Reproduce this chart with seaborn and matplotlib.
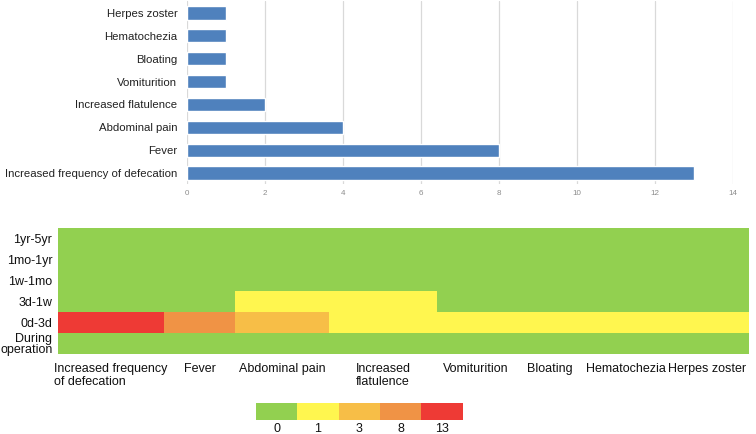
import matplotlib.pyplot as plt
import numpy as np
import seaborn as sns
from matplotlib.colors import BoundaryNorm, ListedColormap

# symptom totals (top bar chart)
symptoms = [
    "Increased frequency of defecation",
    "Fever",
    "Abdominal pain",
    "Increased flatulence",
    "Vomiturition",
    "Bloating",
    "Hematochezia",
    "Herpes zoster",
]
patients = [13, 8, 4, 2, 1, 1, 1, 1]

# onset time per symptom (heatmap rows, top to bottom)
periods = ["1yr-5yr", "1mo-1yr", "1w-1mo", "3d-1w", "0d-3d", "During\noperation"]
onset_1yr_5yr = [0, 0, 0, 0, 0, 0, 0, 0]
onset_1mo_1yr = [0, 0, 0, 0, 0, 0, 0, 0]
onset_1w_1mo = [0, 0, 0, 0, 0, 0, 0, 0]
onset_3d_1w = [0, 0, 1, 1, 0, 0, 0, 0]
onset_0d_3d = [13, 8, 3, 1, 1, 1, 1, 1]
onset_during = [0, 0, 0, 0, 0, 0, 0, 0]

heat_labels = [
    "Increased frequency\nof defecation",
    "Fever",
    "Abdominal pain",
    "Increased\nflatulence",
    "Vomiturition",
    "Bloating",
    "Hematochezia",
    "Herpes zoster",
]
legend_labels = ["0", "1", "3", "8", "13"]

# layout: uneven column widths as in the original figure
col_widths = [106, 71, 94, 108, 77, 71, 81, 83]

level_colors = ["#92D050", "#FFF64F", "#F7BE47", "#F09345", "#EE3A35"]
cmap = ListedColormap(level_colors)
norm = BoundaryNorm([-0.5, 0.5, 2, 5.5, 10.5, 14], cmap.N)

sns.set_style("white")
plt.rcParams["font.family"] = ["Liberation Sans", "DejaVu Sans"]

fig = plt.figure(figsize=(7.56, 4.34), dpi=100)

# --- top: horizontal bar chart ---
ax_bar = fig.add_axes([0.2474, 0.5749, 0.7222, 0.4217])
sns.barplot(
    x=patients,
    y=symptoms,
    order=symptoms[::-1],
    orient="h",
    color="#4F81BD",
    saturation=1,
    width=0.58,
    ax=ax_bar,
)
ax_bar.set_xlim(0, 14)
ax_bar.set_xticks(range(0, 15, 2))
ax_bar.set_axisbelow(True)
ax_bar.grid(axis="x", color="#D9D9D9", linewidth=0.9)
for s in ax_bar.spines.values():
    s.set_visible(False)
ax_bar.tick_params(axis="y", length=0, pad=7, labelsize=8.2, labelcolor="#222222")
ax_bar.tick_params(axis="x", length=0, pad=4, labelsize=5.8, labelcolor="#8C8C8C")
ax_bar.set_xlabel("")
ax_bar.set_ylabel("")

# --- bottom: onset heatmap with uneven columns ---
ax_heat = fig.add_axes([0.0767, 0.1836, 0.9140, 0.2903])
grid = np.array([onset_1yr_5yr, onset_1mo_1yr, onset_1w_1mo,
                 onset_3d_1w, onset_0d_3d, onset_during])
x_edges = np.concatenate([[0], np.cumsum(col_widths)])
y_edges = np.arange(len(periods) + 1)
ax_heat.pcolormesh(x_edges, y_edges, grid, cmap=cmap, norm=norm)
ax_heat.set_xlim(x_edges[0], x_edges[-1])
ax_heat.set_ylim(len(periods), 0)
for s in ax_heat.spines.values():
    s.set_visible(False)

x_centers = (x_edges[:-1] + x_edges[1:]) / 2
ax_heat.set_xticks(x_centers)
ax_heat.set_xticklabels(heat_labels, fontsize=9.0, color="#111111", va="top",
                        multialignment="left", linespacing=1.15)
ax_heat.set_xticks(x_edges[1:-1], minor=True)
ax_heat.set_yticks(y_edges[:-1] + 0.5)
ax_heat.set_yticklabels(periods, fontsize=9.0, color="#111111", linespacing=0.85)
ax_heat.set_yticks(y_edges[1:-1], minor=True)
ax_heat.tick_params(which="major", length=0)
ax_heat.tick_params(axis="x", which="major", pad=6)
ax_heat.tick_params(axis="y", which="major", pad=4)
ax_heat.tick_params(which="minor", length=3, color="#CCCCCC", width=0.6)

# --- legend strip ---
ax_leg = fig.add_axes([0.3386, 0.0316, 0.2734, 0.0392])
sns.heatmap(
    [list(range(len(level_colors)))],
    cmap=cmap,
    cbar=False,
    xticklabels=legend_labels,
    yticklabels=False,
    ax=ax_leg,
)
ax_leg.tick_params(axis="x", length=0, pad=2, labelsize=9, labelcolor="#111111",
                   labelrotation=0)

fig.savefig("out.png", dpi=100)
